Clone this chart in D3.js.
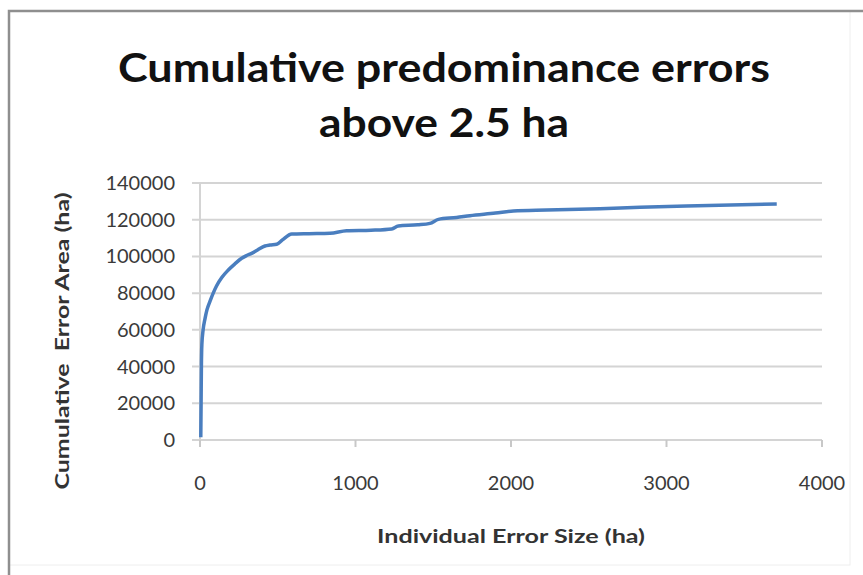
<!DOCTYPE html>
<html>
<head>
<meta charset="utf-8">
<script src="https://d3js.org/d3.v7.min.js"></script>
<style>
  body { margin: 0; background: #ffffff; }
  text { font-family: Lato, "Open Sans", sans-serif; }
</style>
</head>
<body>
<div class="chart"></div>
<script>
// data
var errorSize = [5, 7, 9, 12, 20, 32, 45, 64, 85, 107, 140, 182, 225, 268, 300, 332, 370, 418, 450, 493, 530, 590, 700, 836, 943, 1100, 1233, 1275, 1400, 1479, 1533, 1650, 1736, 1900, 2015, 2230, 2572, 2830, 3200, 3709];
var cumArea = [1500, 20000, 40000, 52000, 60000, 66000, 71000, 75500, 80000, 84000, 88500, 92600, 96000, 99000, 100500, 101700, 103500, 105700, 106200, 106600, 109000, 112200, 112400, 112600, 114000, 114300, 115000, 116600, 117200, 118000, 120200, 121200, 122200, 123600, 124800, 125300, 126000, 126800, 127600, 128600];
var xTicks = [0, 1000, 2000, 3000, 4000];
var yTicks = [0, 20000, 40000, 60000, 80000, 100000, 120000, 140000];
var titleLines = ["Cumulative predominance errors", "above 2.5 ha"];
var xTitle = "Individual Error Size (ha)";
var yTitle = "Cumulative\u00a0 Error Area (ha)";

// set up svg
var svgWidth = 863;
var svgHeight = 575;
var margin = { top: 183, right: 41, bottom: 135, left: 200 };
var width = svgWidth - margin.left - margin.right;
var height = svgHeight - margin.top - margin.bottom;

var svg = d3.select(".chart")
  .append("svg")
  .attr("width", svgWidth)
  .attr("height", svgHeight);

// picture frame
svg.append("rect")
  .attr("x", 9).attr("y", 11)
  .attr("width", 841).attr("height", 554)
  .attr("fill", "none")
  .attr("stroke", "#eeeeee")
  .attr("stroke-width", 1);
svg.append("path")
  .attr("d", "M9,575 V11 H863")
  .attr("fill", "none")
  .attr("stroke", "#8f8f8f")
  .attr("stroke-width", 2.5);

var chartGroup = svg.append("g")
  .attr("transform", `translate(${margin.left}, ${margin.top})`);

// scales
var xLinearScale = d3.scaleLinear().domain([0, 4000]).range([0, width]);
var yLinearScale = d3.scaleLinear().domain([0, 140000]).range([height, 0]);

// gridlines (with the little stubs to the left)
chartGroup.append("g")
  .selectAll("line")
  .data(yTicks)
  .enter()
  .append("line")
  .attr("x1", -8)
  .attr("x2", width)
  .attr("y1", d => yLinearScale(d))
  .attr("y2", d => yLinearScale(d))
  .attr("stroke", "#d4d4d4")
  .attr("stroke-width", 2);

// y axis line
chartGroup.append("line")
  .attr("x1", 0).attr("x2", 0)
  .attr("y1", 0).attr("y2", height)
  .attr("stroke", "#d4d4d4")
  .attr("stroke-width", 2);

// x axis ticks
chartGroup.append("g")
  .selectAll("line")
  .data(xTicks)
  .enter()
  .append("line")
  .attr("x1", d => xLinearScale(d))
  .attr("x2", d => xLinearScale(d))
  .attr("y1", height)
  .attr("y2", height + 7)
  .attr("stroke", "#c8c8c8")
  .attr("stroke-width", 2);

// tick labels
chartGroup.append("g")
  .selectAll("text")
  .data(yTicks)
  .enter()
  .append("text")
  .attr("x", -25)
  .attr("y", d => yLinearScale(d) + 7)
  .attr("text-anchor", "end")
  .attr("font-size", "20px")
  .attr("fill", "#3a3a3a")
  .text(d => d);

chartGroup.append("g")
  .selectAll("text")
  .data(xTicks)
  .enter()
  .append("text")
  .attr("x", d => xLinearScale(d))
  .attr("y", height + 50)
  .attr("text-anchor", "middle")
  .attr("font-size", "20px")
  .attr("fill", "#3a3a3a")
  .text(d => d);

// the line
var pts = errorSize.map((x, i) => ({ x: x, y: cumArea[i] }));
var lineGenerator = d3.line()
  .x(d => xLinearScale(d.x))
  .y(d => yLinearScale(d.y))
  .curve(d3.curveMonotoneX);

chartGroup.append("path")
  .attr("fill", "none")
  .attr("stroke", "#4a7ebf")
  .attr("stroke-width", 3.5)
  .attr("stroke-linejoin", "round")
  .attr("d", lineGenerator(pts));

// title
svg.append("g")
  .selectAll("text")
  .data(titleLines)
  .enter()
  .append("text")
  .attr("x", 444)
  .attr("y", (d, i) => 82 + i * 55)
  .attr("text-anchor", "middle")
  .attr("font-size", "40px")
  .attr("font-weight", "bold")
  .attr("fill", "#111111")
  .attr("textLength", (d, i) => i == 0 ? 652 : 250)
  .attr("lengthAdjust", "spacingAndGlyphs")
  .text(d => d);

// axis titles
svg.append("text")
  .attr("x", 511)
  .attr("y", 543)
  .attr("text-anchor", "middle")
  .attr("font-size", "19px")
  .attr("font-weight", "bold")
  .attr("fill", "#333333")
  .attr("textLength", 268)
  .attr("lengthAdjust", "spacingAndGlyphs")
  .text(xTitle);

svg.append("text")
  .attr("transform", "translate(69, 341) rotate(-90)")
  .attr("text-anchor", "middle")
  .attr("font-size", "19px")
  .attr("font-weight", "bold")
  .attr("fill", "#333333")
  .attr("textLength", 297)
  .attr("lengthAdjust", "spacingAndGlyphs")
  .text(yTitle);
</script>
</body>
</html>
